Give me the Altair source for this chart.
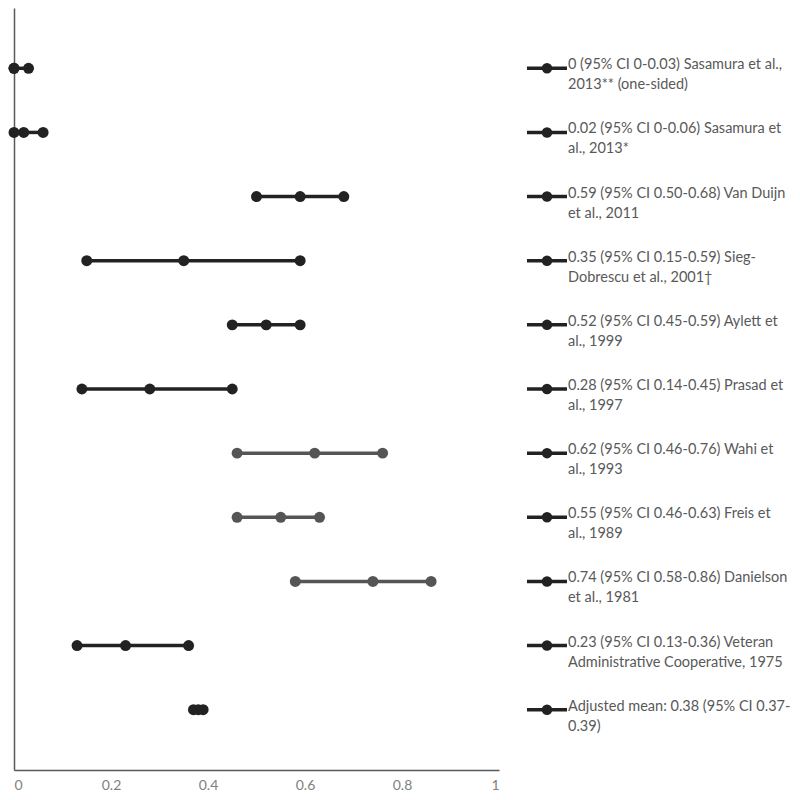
import altair as alt
import pandas as pd

studies = [
    "Sasamura 2013 (one-sided)", "Sasamura 2013", "Van Duijn 2011", "Sieg-Dobrescu 2001",
    "Aylett 1999", "Prasad 1997", "Wahi 1993", "Freis 1989", "Danielson 1981",
    "Veteran Administrative Cooperative 1975", "Adjusted mean",
]
estimates = [0.0, 0.02, 0.59, 0.35, 0.52, 0.28, 0.62, 0.55, 0.74, 0.23, 0.38]
lowers = [0.0, 0.0, 0.50, 0.15, 0.45, 0.14, 0.46, 0.46, 0.58, 0.13, 0.37]
uppers = [0.03, 0.06, 0.68, 0.59, 0.59, 0.45, 0.76, 0.63, 0.86, 0.36, 0.39]
groups = ["dark", "dark", "dark", "dark", "dark", "dark", "gray", "gray", "gray", "dark", "dark"]
labels = [
    "0 (95% CI 0-0.03) Sasamura et al.,\n2013** (one-sided)",
    "0.02 (95% CI 0-0.06) Sasamura et\nal., 2013*",
    "0.59 (95% CI 0.50-0.68) Van Duijn\net al., 2011",
    "0.35 (95% CI 0.15-0.59) Sieg-\nDobrescu et al., 2001\u2020",
    "0.52 (95% CI 0.45-0.59) Aylett et\nal., 1999",
    "0.28 (95% CI 0.14-0.45) Prasad et\nal., 1997",
    "0.62 (95% CI 0.46-0.76) Wahi et\nal., 1993",
    "0.55 (95% CI 0.46-0.63) Freis et\nal., 1989",
    "0.74 (95% CI 0.58-0.86) Danielson\net al., 1981",
    "0.23 (95% CI 0.13-0.36) Veteran\nAdministrative Cooperative, 1975",
    "Adjusted mean: 0.38 (95% CI 0.37-\n0.39)",
]

df = pd.DataFrame({
    "study": studies, "est": estimates, "lo": lowers, "hi": uppers,
    "group": groups, "label": labels,
})
pts = df.melt(id_vars=["study", "group"], value_vars=["lo", "est", "hi"], value_name="v")

FONT = "Lato"
ycfg = alt.Y("study:N", sort=studies, scale=alt.Scale(padding=0.88),
             axis=alt.Axis(title=None, labels=False, ticks=False, domainColor="#595959",
                           domainWidth=1.5, grid=False))
xcfg_axis = alt.Axis(title=None, values=[0, 0.2, 0.4, 0.6, 0.8, 1], format=".1~f",
                     ticks=False, grid=False, labelColor="#7f7f7f", labelFontSize=14,
                     labelFont=FONT, labelPadding=8, labelFlush=True,
                     domainColor="#595959", domainWidth=1.5)
color = alt.Color("group:N", scale=alt.Scale(domain=["dark", "gray"], range=["#222222", "#555555"]),
                  legend=None)

base = alt.Chart(df)
rules = base.mark_rule(strokeWidth=3.5).encode(
    x=alt.X("lo:Q", scale=alt.Scale(domain=[0, 1]), axis=xcfg_axis),
    x2="hi:Q", y=ycfg, color=color)
points = alt.Chart(pts).mark_point(filled=True, size=120, opacity=1).encode(
    x=alt.X("v:Q"), y=alt.Y("study:N", sort=studies), color=color)

leg_rule = base.mark_rule(strokeWidth=3.5, color="#222222").encode(
    x=alt.value(513), x2=alt.value(553), y=alt.Y("study:N", sort=studies))
leg_pt = base.mark_point(filled=True, size=110, opacity=1, color="#222222").encode(
    x=alt.value(533), y=alt.Y("study:N", sort=studies))
leg_txt = base.mark_text(align="left", baseline="top", dy=-10, lineBreak="\n", lineHeight=20,
                         font=FONT, fontSize=14.5, color="#595959").encode(
    x=alt.value(554), y=alt.Y("study:N", sort=studies), text="label:N")

chart = alt.layer(rules, points, leg_rule, leg_pt, leg_txt).properties(
    width=485, height=762, padding=0
).configure_view(stroke=None)

chart.save("out.html", embed_options={"renderer": "svg", "actions": False})
